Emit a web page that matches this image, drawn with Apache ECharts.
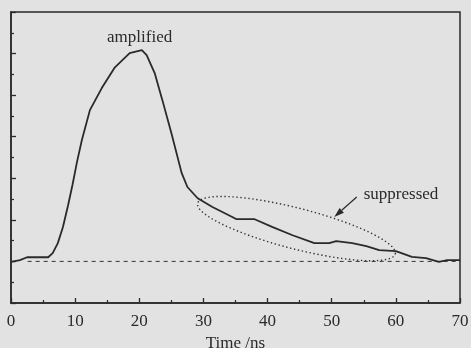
<!DOCTYPE html>
<html>
<head>
<meta charset="utf-8">
<script src="https://cdn.jsdelivr.net/npm/echarts@6/dist/echarts.min.js"></script>
<style>
html,body{margin:0;padding:0;background:#e2e2e2;}
#c{width:471px;height:348px;}
</style>
</head>
<body>
<div id="c"></div>
<script>
// Signal curve (time in ns, amplitude in axis units)
const timeNs = [0, 1.4, 2.5, 4, 5.8, 6.5, 7.3, 8.1, 8.9, 9.6, 10.3, 11.05, 12.3, 14.15, 16.2, 18.5, 20.4, 21.15, 22.4, 23.6, 25.0, 26.6, 27.5, 29.1, 31.4, 34.5, 35.1, 37.9, 40.7, 43.9, 47.3, 49.6, 50.7, 53.2, 55.4, 57.4, 60.0, 62.5, 64.7, 66.7, 68, 70];
const amplitude = [0.99, 1.03, 1.1, 1.1, 1.1, 1.2, 1.44, 1.83, 2.35, 2.85, 3.4, 3.92, 4.64, 5.17, 5.67, 6.01, 6.08, 5.96, 5.53, 4.88, 4.09, 3.13, 2.79, 2.52, 2.31, 2.07, 2.02, 2.02, 1.83, 1.63, 1.44, 1.44, 1.49, 1.44, 1.37, 1.27, 1.25, 1.11, 1.08, 0.99, 1.03, 1.03];
// Dashed reference baseline
const baselineTime = [2.6, 70];
const baselineLevel = [1, 1];
// Axis ticks
const xTicks = [0, 10, 20, 30, 40, 50, 60, 70];
const xTitle = 'Time /ns';
// Annotations (data coordinates)
const amplifiedLabel = {text: 'amplified', t: 20.05, y: 6.39};
const suppressedLabel = {text: 'suppressed', t: 60.8, y: 2.62};
const ellipseEnds = [[29.1, 2.40], [59.9, 1.18]];
const arrowFromTo = [[53.9, 2.55], [50.4, 2.07]];

const serif = '"Liberation Serif", "DejaVu Serif", serif';
const ink = '#2a2a2a';

const chart = echarts.init(document.getElementById('c'));

function renderAnnot(params, api) {
  const children = [];
  // ellipse
  const p1 = api.coord(ellipseEnds[0]);
  const p2 = api.coord(ellipseEnds[1]);
  const cx = (p1[0] + p2[0]) / 2, cy = (p1[1] + p2[1]) / 2;
  const dx = p2[0] - p1[0], dy = p2[1] - p1[1];
  const a = Math.sqrt(dx * dx + dy * dy) / 2;
  const b = a * 0.2;
  const ux = dx / (2 * a), uy = dy / (2 * a);
  const vx = uy, vy = -ux;
  const pts = [];
  for (let i = 0; i < 120; i++) {
    const th = i / 120 * Math.PI * 2;
    const u = a * Math.cos(th), v = b * Math.sin(th);
    pts.push([cx + u * ux + v * vx, cy + u * uy + v * vy]);
  }
  children.push({
    type: 'polygon', shape: {points: pts},
    style: {fill: 'none', stroke: '#333', lineWidth: 1.4, lineDash: [1.4, 2.6]}
  });
  // arrow
  const a0 = api.coord(arrowFromTo[0]);
  const a1 = api.coord(arrowFromTo[1]);
  const adx = a1[0] - a0[0], ady = a1[1] - a0[1];
  const al = Math.sqrt(adx * adx + ady * ady);
  const ex = adx / al, ey = ady / al;
  const hl = 10, hw = 3.2;
  const base = [a1[0] - ex * hl, a1[1] - ey * hl];
  children.push({
    type: 'line', shape: {x1: a0[0], y1: a0[1], x2: base[0], y2: base[1]},
    style: {stroke: ink, lineWidth: 1.2}
  });
  children.push({
    type: 'polygon',
    shape: {points: [a1, [base[0] - ey * hw, base[1] + ex * hw], [base[0] + ey * hw, base[1] - ex * hw]]},
    style: {fill: ink}
  });
  // labels
  [amplifiedLabel, suppressedLabel].forEach(function (L) {
    const p = api.coord([L.t, L.y]);
    children.push({
      type: 'text', x: p[0], y: p[1],
      style: {text: L.text, fill: ink, font: '17px ' + serif, align: 'center', verticalAlign: 'middle'}
    });
  });
  return {type: 'group', children: children};
}

chart.setOption({
  backgroundColor: '#e2e2e2',
  animation: false,
  grid: {left: 11, right: 11, top: 12, bottom: 45, outerBoundsMode: 'none', containLabel: false,
    show: true, borderColor: ink, borderWidth: 1.5, backgroundColor: 'transparent'},
  xAxis: {
    type: 'value', min: 0, max: 70, interval: 10,
    name: xTitle, nameLocation: 'middle', nameGap: 29,
    nameTextStyle: {fontFamily: serif, fontSize: 17, color: ink},
    axisLine: {show: true, onZero: false, lineStyle: {color: ink, width: 1.5}},
    axisTick: {show: true, inside: true, length: 5, lineStyle: {color: ink, width: 1.3}},
    minorTick: {show: true, splitNumber: 2, length: 3, lineStyle: {color: ink, width: 1.2}},
    axisLabel: {fontFamily: serif, fontSize: 17, color: ink, margin: 10,
      formatter: function (v) { return xTicks.indexOf(v) >= 0 ? String(v) : ''; }},
    splitLine: {show: false}
  },
  yAxis: {
    type: 'value', min: 0, max: 7, interval: 1,
    axisLine: {show: true, lineStyle: {color: ink, width: 1.5}},
    axisTick: {show: true, inside: true, length: 5, lineStyle: {color: ink, width: 1.3}},
    minorTick: {show: true, splitNumber: 2, length: 3, lineStyle: {color: ink, width: 1.2}},
    axisLabel: {show: false},
    splitLine: {show: false}
  },
  series: [
    {
      type: 'line', data: baselineTime.map(function (t, i) { return [t, baselineLevel[i]]; }),
      symbol: 'none', lineStyle: {color: '#444', width: 1.1, type: [4, 4]}, z: 1
    },
    {
      type: 'line', data: timeNs.map(function (t, i) { return [t, amplitude[i]]; }),
      symbol: 'none', lineStyle: {color: ink, width: 1.8}, z: 3
    },
    {
      type: 'custom', data: [[0, 0]], renderItem: renderAnnot, z: 4, silent: true, clip: false
    }
  ]
});
</script>
</body>
</html>
